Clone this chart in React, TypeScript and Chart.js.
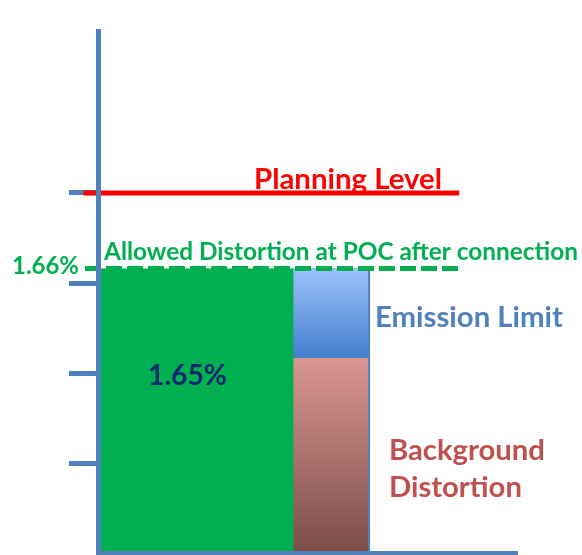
import React, { useEffect, useRef } from 'react';
import { Chart, registerables } from 'chart.js';

Chart.register(...registerables);

// ---- data (schematic units) ----
const yTicks = [1, 2, 3, 4];
const planningLevel = 4;
const allowedLevel = 3.16;
const backgroundLevel = 2.17;
const blockEdges = [0, 4.66, 6.47];
const lineSpan = [-0.35, 8.62];
const dashSpan = [-0.31, 8.62];

const labelPlanning = 'Planning Level';
const labelAllowed = 'Allowed Distortion at POC after connection';
const labelAllowedValue = '1.66%';
const labelEmission = 'Emission Limit';
const labelGreenValue = '1.65%';
const labelBackground1 = 'Background';
const labelBackground2 = 'Distortion';

// ---- styles ----
const AXIS_BLUE = '#4f81bd';
const GREEN = '#00b050';
const RED = '#ff0000';
const FONT = 'Lato';

const vGradient = (top: number, bottom: number, c1: string, c2: string) => (ctx: any) => {
  const chart = ctx.chart;
  const ys = chart.scales && chart.scales.y;
  if (!ys || !chart.chartArea) return c1;
  const g = chart.ctx.createLinearGradient(0, ys.getPixelForValue(top), 0, ys.getPixelForValue(bottom));
  g.addColorStop(0, c1);
  g.addColorStop(1, c2);
  return g;
};

type Ann = { text: string; x: number; y: number; w: number; color: string; fit?: string };
const annotations: Ann[] = [
  { text: labelPlanning, x: 254, y: 188.5, w: 188, color: RED },
  { text: labelAllowed, x: 104, y: 260, w: 474, color: GREEN },
  { text: labelAllowedValue, x: 12, y: 274, w: 67, color: GREEN },
  { text: labelEmission, x: 375, y: 327, w: 188, color: AXIS_BLUE },
  { text: labelGreenValue, x: 148, y: 384.5, w: 79, color: '#0e2a6a' },
  { text: labelBackground1, x: 389, y: 459.5, w: 156, color: '#c0504d' },
  { text: labelBackground2, x: 389, y: 497, w: 156, color: '#c0504d', fit: labelBackground1 },
];

const annotationPlugin = {
  id: 'schematicLabels',
  afterDraw(chart: any) {
    const c = chart.ctx as CanvasRenderingContext2D;
    c.save();
    c.textAlign = 'left';
    c.textBaseline = 'alphabetic';
    for (const a of annotations) {
      c.font = `bold 100px ${FONT}`;
      const mw = c.measureText(a.fit || a.text).width;
      const size = (100 * a.w) / mw;
      c.font = `bold ${size.toFixed(2)}px ${FONT}`;
      c.fillStyle = a.color;
      c.fillText(a.text, a.x, a.y);
    }
    c.restore();
  },
};

const hLine = (span: number[], y: number) => [
  { x: span[0], y },
  { x: span[1], y },
];

export default function App() {
  const ref = useRef<HTMLCanvasElement | null>(null);
  useEffect(() => {
    if (!ref.current) return;
    const chart = new Chart(ref.current, {
      type: 'line',
      data: {
        datasets: [
          {
            label: 'Planning Level',
            data: hLine(lineSpan, planningLevel),
            borderColor: RED,
            borderWidth: 5,
            pointRadius: 0,
            fill: false,
            clip: false,
          } as any,
          {
            label: 'Allowed Distortion at POC',
            data: hLine(dashSpan, allowedLevel),
            borderColor: GREEN,
            borderWidth: 5,
            borderDash: [16, 5],
            pointRadius: 0,
            fill: false,
            clip: false,
          },
          {
            label: 'Block edge',
            data: [
              { x: blockEdges[2], y: 0 },
              { x: blockEdges[2], y: allowedLevel },
            ],
            borderColor: AXIS_BLUE,
            borderWidth: 2,
            pointRadius: 0,
            fill: false,
          },
          {
            label: 'Emission Limit',
            data: hLine([blockEdges[1], blockEdges[2]], allowedLevel),
            borderColor: 'rgba(0,0,0,0)',
            borderWidth: 0,
            backgroundColor: vGradient(allowedLevel, backgroundLevel, '#9cc2fa', '#437fcf'),
            pointRadius: 0,
            fill: 4,
          },
          {
            label: 'Background Distortion',
            data: hLine([blockEdges[1], blockEdges[2]], backgroundLevel),
            borderColor: 'rgba(0,0,0,0)',
            borderWidth: 0,
            backgroundColor: vGradient(backgroundLevel, 0, '#da9692', '#7c4d49'),
            pointRadius: 0,
            fill: 'origin',
          },
          {
            label: 'Allowed',
            data: hLine([blockEdges[0], blockEdges[2]], allowedLevel),
            borderColor: 'rgba(0,0,0,0)',
            borderWidth: 0,
            backgroundColor: GREEN,
            pointRadius: 0,
            fill: 'origin',
          },
        ],
      },
      options: {
        responsive: false,
        animation: false,
        devicePixelRatio: 1,
        events: [],
        layout: { padding: { left: 69, right: 65, top: 31, bottom: 2 } },
        plugins: { legend: { display: false }, tooltip: { enabled: false } },
        scales: {
          x: {
            type: 'linear',
            min: 0,
            max: 10,
            grid: { display: false, drawTicks: false },
            ticks: { display: false },
            border: { display: true, color: AXIS_BLUE, width: 5, z: 1 },
          },
          y: {
            type: 'linear',
            min: 0,
            max: 5.8,
            afterBuildTicks: (scale: any) => {
              scale.ticks = yTicks.map((v) => ({ value: v }));
            },
            grid: {
              drawOnChartArea: false,
              drawTicks: true,
              tickLength: 29,
              tickWidth: 5,
              tickColor: AXIS_BLUE,
              color: AXIS_BLUE,
            },
            ticks: { display: false },
            border: { display: true, color: AXIS_BLUE, width: 5, z: 1 },
          },
        },
      } as any,
      plugins: [annotationPlugin],
    });
    return () => chart.destroy();
  }, []);
  return (
    <div style={{ position: 'absolute', left: 0, top: 0, width: 582, height: 555 }}>
      <canvas ref={ref} width={582} height={555} style={{ display: 'block' }} />
    </div>
  );
}
